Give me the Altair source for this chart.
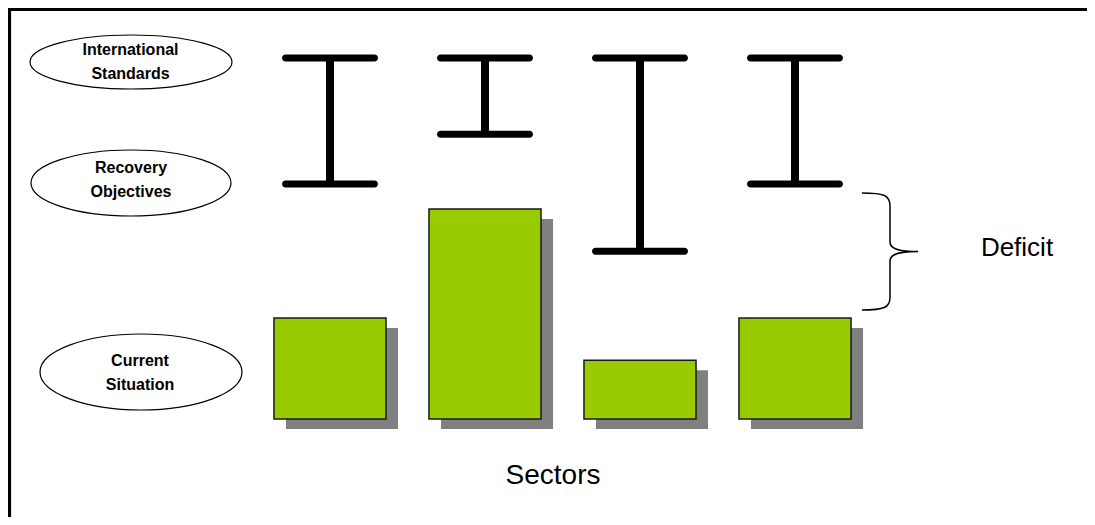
import altair as alt
import pandas as pd

# ---- data (arbitrary level units, 0 = baseline) ----
sectors = ["Sector 1", "Sector 2", "Sector 3", "Sector 4"]
international_standards = [100, 100, 100, 100]
recovery_objectives = [65.1, 78.9, 46.5, 65.1]
current_situation = [28.0, 58.2, 16.3, 28.0]

row_labels = ["International\nStandards", "Recovery\nObjectives", "Current\nSituation"]
x_title = "Sectors"
gap_label = "Deficit"

df = pd.DataFrame({
    "sector": sectors,
    "standard": international_standards,
    "objective": recovery_objectives,
    "current": current_situation,
})
one = pd.DataFrame({"k": [0]})

W, H = 1077, 507
FONT = "Liberation Sans"

x = alt.X("sector:N", axis=None, sort=sectors,
          scale=alt.Scale(range=[242.5, 862.5], paddingInner=0.277, paddingOuter=0.1385))
ysc = alt.Scale(domain=[0, 100], range=[409, 48], nice=False, zero=True)

base = alt.Chart(df)

shadow = base.mark_bar(color="#808080", xOffset=12, x2Offset=12, yOffset=10, y2Offset=10).encode(
    x=x, y=alt.Y("current:Q", axis=None, scale=ysc))
bars = base.mark_bar(fill="#99CC00", stroke="#1a1a1a", strokeWidth=1.5).encode(
    x=x, y=alt.Y("current:Q", axis=None, scale=ysc))
stems = base.mark_rule(color="black", strokeWidth=8).encode(
    x=x, y=alt.Y("objective:Q", axis=None, scale=ysc), y2="standard:Q")
cap_top = base.mark_tick(color="black", size=96, thickness=7, cornerRadius=3.5,
                         orient="horizontal", opacity=1).encode(
    x=x, y=alt.Y("standard:Q", axis=None, scale=ysc))
cap_bot = base.mark_tick(color="black", size=96, thickness=7, cornerRadius=3.5,
                         orient="horizontal", opacity=1).encode(
    x=x, y=alt.Y("objective:Q", axis=None, scale=ysc))


def ellipse_path(r):
    k = 0.5523
    a, b = round(k * r, 4), round(r, 4)
    return (f"M -1 0 C -1 {-a} {-k} {-b} 0 {-b} C {k} {-b} 1 {-a} 1 0 "
            f"C 1 {a} {k} {b} 0 {b} C {-k} {b} -1 {a} -1 0 Z")


ell_specs = [  # (cx, cy, width, height) of each label ellipse, in px
    (121, 52, 202, 54),
    (121, 173, 200, 66),
    (131, 362, 202, 76),
]
text_pos = [(120.5, 40), (121, 158), (130, 350.5)]  # first-line centres

layers = [shadow, bars, stems, cap_top, cap_bot]
for i, (cx, cy, w, h) in enumerate(ell_specs):
    ell = alt.Chart(one).mark_point(
        shape=ellipse_path(h / w), size=w * w, filled=False, fill="white",
        stroke="black", strokeWidth=1.2, opacity=1).encode(
        x=alt.value(cx), y=alt.value(cy))
    tx, ty = text_pos[i]
    lab = alt.Chart(pd.DataFrame({"t": [row_labels[i]]})).mark_text(
        font=FONT, fontSize=16, fontWeight="bold", lineBreak="\n", lineHeight=24,
        align="center", baseline="middle", color="black").encode(
        x=alt.value(tx), y=alt.value(ty), text="t:N")
    layers += [ell, lab]

brace_path = ("M -0.48 -1 C -0.1 -1 0 -0.96 0 -0.78 L 0 -0.16 C 0 -0.03 0.2 0 0.48 0 "
              "C 0.2 0 0 0.03 0 0.16 L 0 0.78 C 0 0.96 -0.1 1 -0.48 1")
brace = alt.Chart(one).mark_point(
    shape=brace_path, size=117 * 117, filled=False, stroke="black", strokeWidth=1.5,
    opacity=1).encode(x=alt.value(880), y=alt.value(241.5))

deficit = alt.Chart(pd.DataFrame({"t": [gap_label]})).mark_text(
    font=FONT, fontSize=26, align="center", baseline="middle", color="black").encode(
    x=alt.value(1007), y=alt.value(238), text="t:N")
sect = alt.Chart(pd.DataFrame({"t": [x_title]})).mark_text(
    font=FONT, fontSize=28, align="center", baseline="middle", color="black").encode(
    x=alt.value(543), y=alt.value(466), text="t:N")

border_v = alt.Chart(one).mark_rule(color="black", strokeWidth=3.2).encode(
    x=alt.value(-0.5), y=alt.value(-2.5), y2=alt.value(H + 10))
border_h = alt.Chart(one).mark_rule(color="black", strokeWidth=3.2).encode(
    y=alt.value(-0.5), x=alt.value(-2.5), x2=alt.value(W + 10))

layers += [brace, deficit, sect, border_v, border_h]

chart = alt.layer(*layers).properties(
    width=W, height=H,
    padding={"left": 2, "top": 2, "right": 0, "bottom": 0},
    autosize=alt.AutoSizeParams(type="none"),
    background="white",
).configure_view(stroke=None)

chart.save("out.html", embed_options={"renderer": "svg", "actions": False})
